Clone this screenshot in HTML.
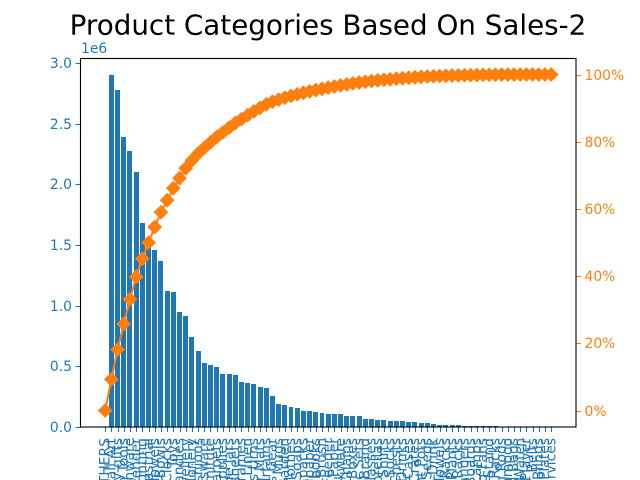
<!DOCTYPE html>
<html>
<head>
<meta charset="utf-8">
<style>
html,body{margin:0;padding:0;background:#fff;width:640px;height:480px;overflow:hidden}
svg{display:block}
text{font-family:"DejaVu Sans",sans-serif}
</style>
</head>
<body>
<svg id="chart" width="640" height="480" viewBox="0 0 640 480" xmlns="http://www.w3.org/2000/svg">
<defs><clipPath id="page-clip"><rect x="0" y="0" width="640" height="480"/></clipPath></defs>
<rect x="0" y="0" width="640" height="480" fill="#fff"/>
<text x="328" y="34.5" text-anchor="middle" font-size="27.78" fill="#000">Product Categories Based On Sales-2</text>
<text x="81" y="53" font-size="13.89" fill="#1f77b4">1e6</text>
<g id="bars"></g>
<g id="xaxis" clip-path="url(#page-clip)"></g>
<g id="yleft"></g>
<g id="yright"></g>
<g id="line"></g>
<rect x="80.5" y="58.5" width="495.5" height="368.5" fill="none" stroke="#000" stroke-width="1.11"/>
</svg>
<script>
var categories = ["OTHERS","Wall Art","Party gifts","Garden Tools","Kitchenware","Home Fender","Lighting","Industrial","Bath Towels","Ceramic Bowls","Wall Clocks","Toys","Candles","Jewellery","Stationery","Cushions","Glassware","Furniture","Rugs Carpets","Pet Supplies","Storage Jars","Bedsheets","Photo Frames","Table Linen","Vases Urns","Door Mats","Curtains","Sports Gear","Novelty Mugs","Tea Garden","Baby Clothes","Hand Soaps","Backpacks","Wallpaper","Notebooks","Paint Brush","Bird Feeder","Craft Paper","Cookware","Key Chains","Lunch Boxes","Picnic Sets","Hair Brand","Sunglasses","Umbrellas","Men's Shirts","Ankle Socks","Tool Chests","Soft Drinks","Phone Cases","Wood Crates","Plant Pots","Garden Seeds","Fresh Drink","Beach Towels","Shoe Racks","Potted Plants","Wine Racks","Coat Hangers","Game Boards","Desk Lamps","Ceiling Fans","Tablet Stand","Bike Racks","Fishing Rods","Car Shampoo","Travel Bags","Wrist Watch","Music Player","Leather Belts","Window Blinds","Paper Plates","Repair Services"];
var sales = [0,2900000,2777000,2390000,2275000,2100000,1680000,1500000,1459000,1368000,1120000,1113000,948000,915000,742000,626000,527000,511000,495000,437000,437000,429000,371000,363000,354000,330000,321000,255000,190000,181000,165000,157000,132000,132000,124000,115000,107000,107000,107000,91000,91000,91000,66000,66000,58000,58000,49000,49000,49000,41000,41000,36000,36000,28000,20000,20000,20000,20000,12000,12000,11000,11000,10000,9000,4000,3000,2500,2000,1500,1000,1000,500,300];
var leftTickValues = [0,500000,1000000,1500000,2000000,2500000,3000000];
var leftTickLabels = ["0.0","0.5","1.0","1.5","2.0","2.5","3.0"];
var rightTickValues = [0,20,40,60,80,100];
var rightTickLabels = ["0%","20%","40%","60%","80%","100%"];

var NS = "http://www.w3.org/2000/svg";
var BLUE = "#1f77b4", ORANGE = "#ff7f0e";
function xPos(i){ return 105.2 + 6.194 * i; }
function yLeft(v){ return 427 - v * 121.33 / 1000000; }
function yRight(p){ return 410.5 - p * 3.36; }
function make(tag, attrs, parent){
  var el = document.createElementNS(NS, tag);
  for (var k in attrs) el.setAttribute(k, attrs[k]);
  parent.appendChild(el);
  return el;
}

var barsG = document.getElementById("bars");
sales.forEach(function(v, i){
  var x0 = Math.round(xPos(i) - 2.478), x1 = Math.round(xPos(i) + 2.478);
  var top = Math.round(yLeft(v));
  var bar = make("rect", {x:x0, y:top, width:x1 - x0, height:427 - top, fill:BLUE}, barsG);
  
  
});

var xG = document.getElementById("xaxis");
categories.forEach(function(c, i){
  var x = Math.round(xPos(i)) + 0.5;
  var tick = make("line", {x1:x, x2:x, y1:427, y2:432, stroke:BLUE, "stroke-width":1.11}, xG);
  
  
  var t = make("text", {transform:"translate(" + (xPos(i) + 4.2) + ",438) rotate(-90)", "text-anchor":"end", "font-size":13.89, fill:BLUE}, xG);
  t.textContent = c;
  
  
});

var lG = document.getElementById("yleft");
leftTickValues.forEach(function(v, i){
  var y = Math.round(yLeft(v)) + 0.5;
  var tick = make("line", {x1:75.5, x2:80.5, y1:y, y2:y, stroke:BLUE, "stroke-width":1.11}, lG);
  
  
  var t = make("text", {x:72, y:y + 4.6, "text-anchor":"end", "font-size":13.89, fill:BLUE}, lG);
  t.textContent = leftTickLabels[i];
  
  
});

var rG = document.getElementById("yright");
rightTickValues.forEach(function(p, i){
  var y = Math.round(yRight(p)) + 0.5;
  var tick = make("line", {x1:576, x2:581, y1:y, y2:y, stroke:ORANGE, "stroke-width":1.11}, rG);
  
  
  var t = make("text", {x:584.5, y:y + 4.6, "font-size":13.89, fill:ORANGE}, rG);
  t.textContent = rightTickLabels[i];
  
  
});

var total = sales.reduce(function(a, b){ return a + b; }, 0);
var running = 0;
var cumulative = sales.map(function(v){ running += v; return running / total * 100; });
var lineG = document.getElementById("line");
var pts = cumulative.map(function(p, i){ return xPos(i).toFixed(2) + "," + yRight(p).toFixed(2); }).join(" ");
var pl = make("polyline", {points:pts, fill:"none", stroke:ORANGE, "stroke-width":2.08}, lineG);


cumulative.forEach(function(p, i){
  var x = xPos(i), y = yRight(p), r = 7.4;
  var m = make("polygon", {points:(x - r) + "," + y + " " + x + "," + (y - r) + " " + (x + r) + "," + y + " " + x + "," + (y + r), fill:ORANGE}, lineG);
  
  
});
</script>
</body>
</html>
